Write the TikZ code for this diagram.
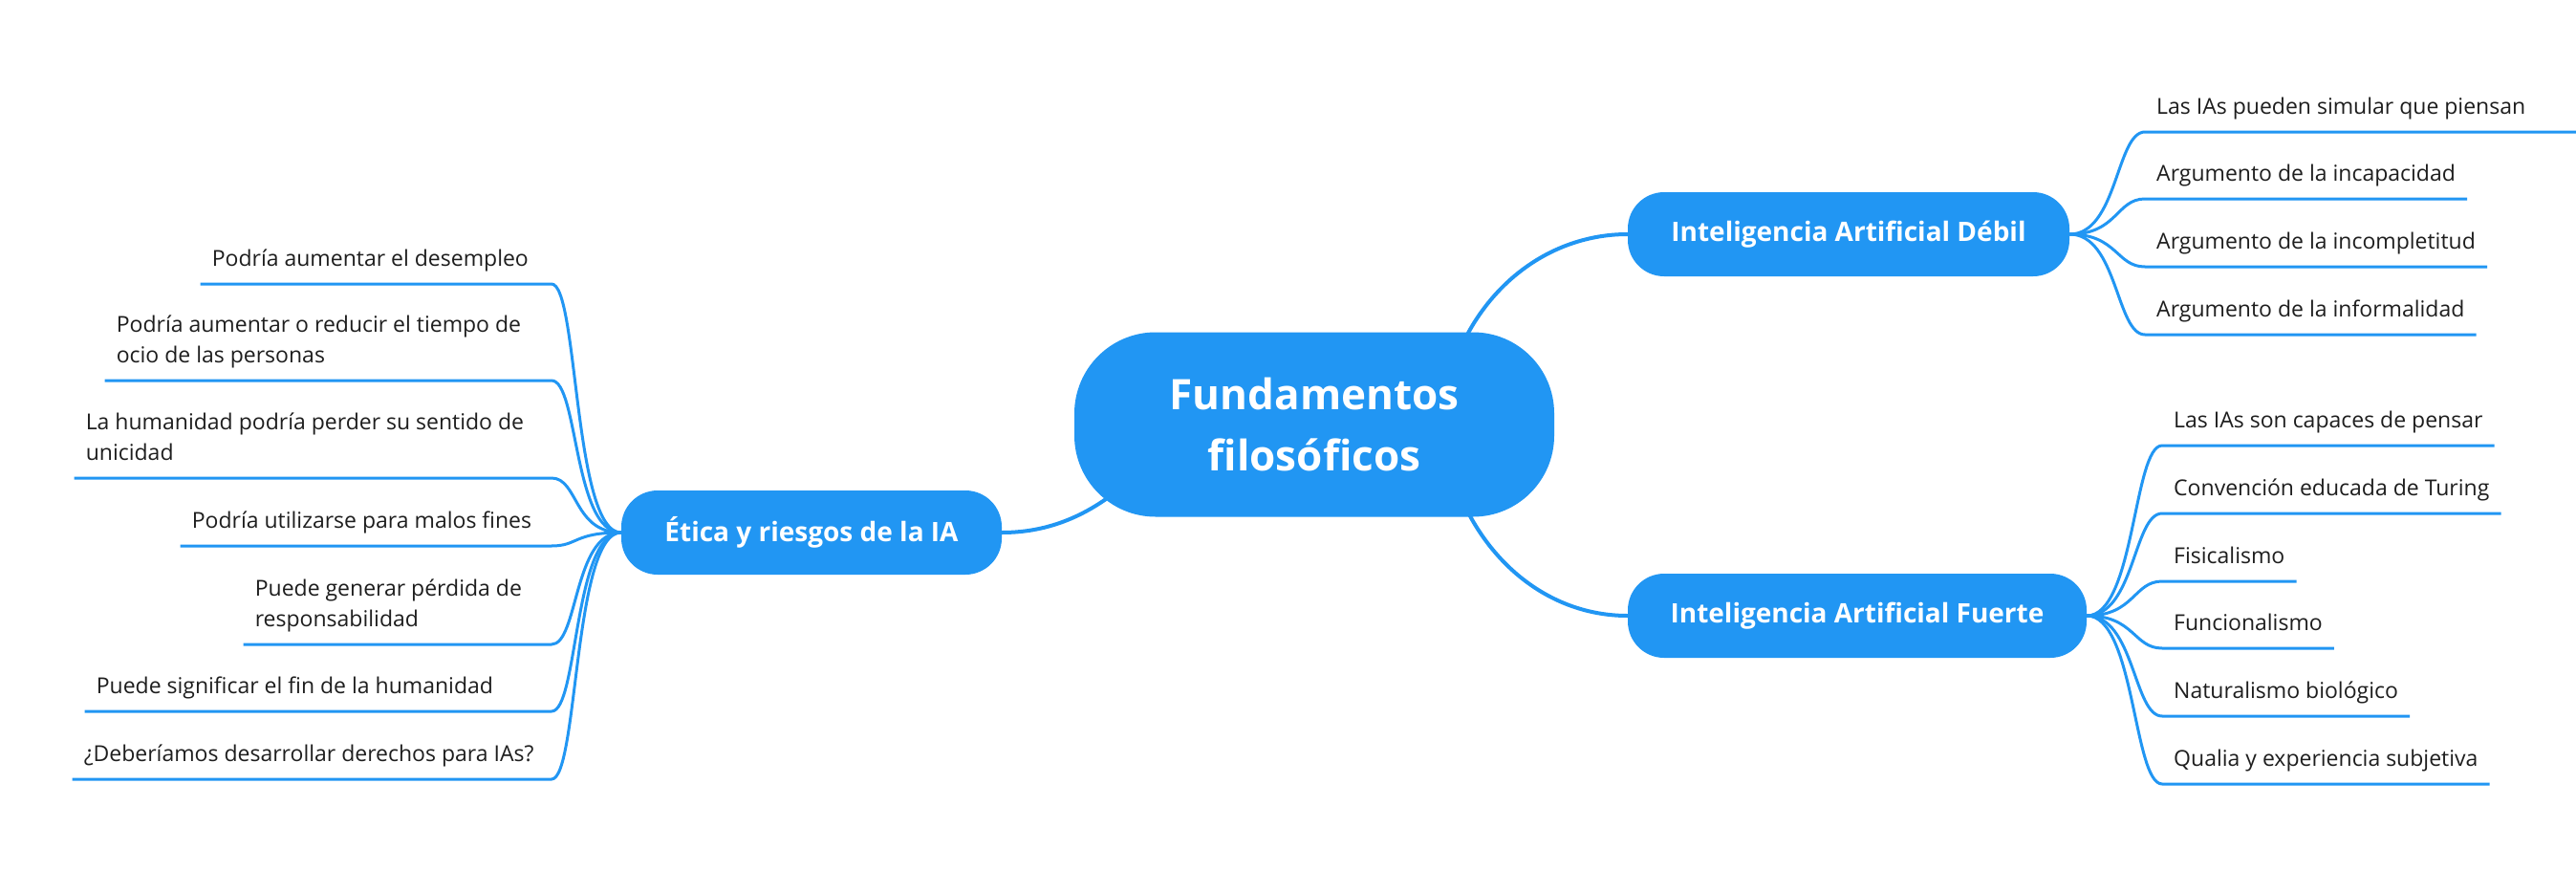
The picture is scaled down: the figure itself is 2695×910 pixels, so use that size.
\documentclass[tikz,border=0pt]{standalone}
\usepackage{fontspec}
\setmainfont{Open Sans}
\definecolor{mmblue}{HTML}{2196F3}
\definecolor{leafink}{HTML}{1E1E1E}

\begin{document}
\begin{tikzpicture}[x = 1pt, y = -1pt,
    every node/.style = {inner sep = 0pt},
    rootbox/.style = {shape = rectangle, rounded corners = 85pt, fill = mmblue, text = white,
      font = \fontsize{44}{64}\selectfont\bfseries, align = center,
      minimum width = 502pt, minimum height = 193pt},
    topicbox/.style = {shape = rectangle, rounded corners = 38pt, fill = mmblue, text = white,
      font = \fontsize{28}{35}\selectfont\bfseries, minimum height = 88pt, minimum width = #1},
    leaf/.style = {inner xsep = 12pt, inner ysep = 8.4pt, text = leafink,
      font = \fontsize{23}{32}\selectfont, execute at end node = \strut},
    branch/.style = {draw = mmblue, line width = 4pt},
    twig/.style = {draw = mmblue, line width = 3pt}]
      \useasboundingbox[fill = white] (0, 0) rectangle (2695, 910);

      \node[rootbox] at (1375, 444) (root) {Fundamentos\\filosóficos};

      \node[topicbox = 462pt] at (1934, 245) (debil) {Inteligencia Artificial Débil};
      \node[topicbox = 480pt] at (1943, 644) (fuerte) {Inteligencia Artificial Fuerte};
      \node[topicbox = 398pt] at (849, 557) (etica) {Ética y riesgos de la IA};

      \draw[branch] ([shift = {(160, -94)}]root.center) .. controls +(35, -65) and +(-70, 0) .. (debil.west);
      \draw[branch] ([shift = {(162, 94)}]root.center) .. controls +(35, 65) and +(-70, 0) .. (fuerte.west);
      \draw[branch] (etica.east) .. controls +(40, 0) and +(-33, 23) .. ([shift = {(-218, 78)}]root.center);

      % --------------------------------------------------------------------------
      \node[leaf, anchor = south west, text width = 427pt, align = flush left] at (2244, 138) (debil_1) {Las IAs pueden simular que piensan};
      \node[leaf, anchor = south west] at (2244, 208) (debil_2) {Argumento de la incapacidad};
      \node[leaf, anchor = south west] at (2244, 279) (debil_3) {Argumento de la incompletitud};
      \node[leaf, anchor = south west] at (2244, 350) (debil_4) {Argumento de la informalidad};

      \draw[twig] (debil.east) .. controls +(50, 0) and +(-30, 0) .. (debil_1.south west) -- (debil_1.south east);
      \draw[twig] (debil.east) .. controls +(50, 0) and +(-30, 0) .. (debil_2.south west) -- (debil_2.south east);
      \draw[twig] (debil.east) .. controls +(50, 0) and +(-30, 0) .. (debil_3.south west) -- (debil_3.south east);
      \draw[twig] (debil.east) .. controls +(50, 0) and +(-30, 0) .. (debil_4.south west) -- (debil_4.south east);

      % --------------------------------------------------------------------------
      \node[leaf, anchor = south west] at (2262, 466) (fuerte_1) {Las IAs son capaces de pensar};
      \node[leaf, anchor = south west] at (2262, 537) (fuerte_2) {Convención educada de Turing};
      \node[leaf, anchor = south west] at (2262, 608) (fuerte_3) {Fisicalismo};
      \node[leaf, anchor = south west] at (2262, 678) (fuerte_4) {Funcionalismo};
      \node[leaf, anchor = south west] at (2262, 749) (fuerte_5) {Naturalismo biológico};
      \node[leaf, anchor = south west] at (2262, 820) (fuerte_6) {Qualia y experiencia subjetiva};

      \draw[twig] (fuerte.east) .. controls +(50, 0) and +(-30, 0) .. (fuerte_1.south west) -- (fuerte_1.south east);
      \draw[twig] (fuerte.east) .. controls +(50, 0) and +(-30, 0) .. (fuerte_2.south west) -- (fuerte_2.south east);
      \draw[twig] (fuerte.east) .. controls +(50, 0) and +(-30, 0) .. (fuerte_3.south west) -- (fuerte_3.south east);
      \draw[twig] (fuerte.east) .. controls +(50, 0) and +(-30, 0) .. (fuerte_4.south west) -- (fuerte_4.south east);
      \draw[twig] (fuerte.east) .. controls +(50, 0) and +(-30, 0) .. (fuerte_5.south west) -- (fuerte_5.south east);
      \draw[twig] (fuerte.east) .. controls +(50, 0) and +(-30, 0) .. (fuerte_6.south west) -- (fuerte_6.south east);

      % --------------------------------------------------------------------------
      \node[leaf, anchor = south east, text width = 343pt, align = flush left] at (577, 297) (etica_1) {Podría aumentar el desempleo};
      \node[leaf, anchor = south east, text width = 443pt, align = flush left] at (577, 398) (etica_2) {Podría aumentar o reducir el tiempo de\\ocio de las personas};
      \node[leaf, anchor = south east, text width = 475pt, align = flush left] at (577, 500) (etica_3) {La humanidad podría perder su sentido de\\unicidad};
      \node[leaf, anchor = south east, text width = 364pt, align = flush left] at (577, 571) (etica_4) {Podría utilizarse para malos fines};
      \node[leaf, anchor = south east, text width = 298pt, align = flush left] at (577, 674) (etica_5) {Puede generar pérdida de\\responsabilidad};
      \node[leaf, anchor = south east, text width = 464pt, align = flush left] at (577, 744) (etica_6) {Puede significar el fin de la humanidad};
      \node[leaf, anchor = south east, text width = 477pt, align = flush left] at (577, 815) (etica_7) {¿Deberíamos desarrollar derechos para IAs?};

      \draw[twig] (etica.west) .. controls +(-50, 0) and +(28, 0) .. (etica_1.south east) -- (etica_1.south west);
      \draw[twig] (etica.west) .. controls +(-50, 0) and +(28, 0) .. (etica_2.south east) -- (etica_2.south west);
      \draw[twig] (etica.west) .. controls +(-50, 0) and +(28, 0) .. (etica_3.south east) -- (etica_3.south west);
      \draw[twig] (etica.west) .. controls +(-50, 0) and +(28, 0) .. (etica_4.south east) -- (etica_4.south west);
      \draw[twig] (etica.west) .. controls +(-50, 0) and +(28, 0) .. (etica_5.south east) -- (etica_5.south west);
      \draw[twig] (etica.west) .. controls +(-50, 0) and +(28, 0) .. (etica_6.south east) -- (etica_6.south west);
      \draw[twig] (etica.west) .. controls +(-50, 0) and +(28, 0) .. (etica_7.south east) -- (etica_7.south west);
    \end{tikzpicture}
\end{document}
